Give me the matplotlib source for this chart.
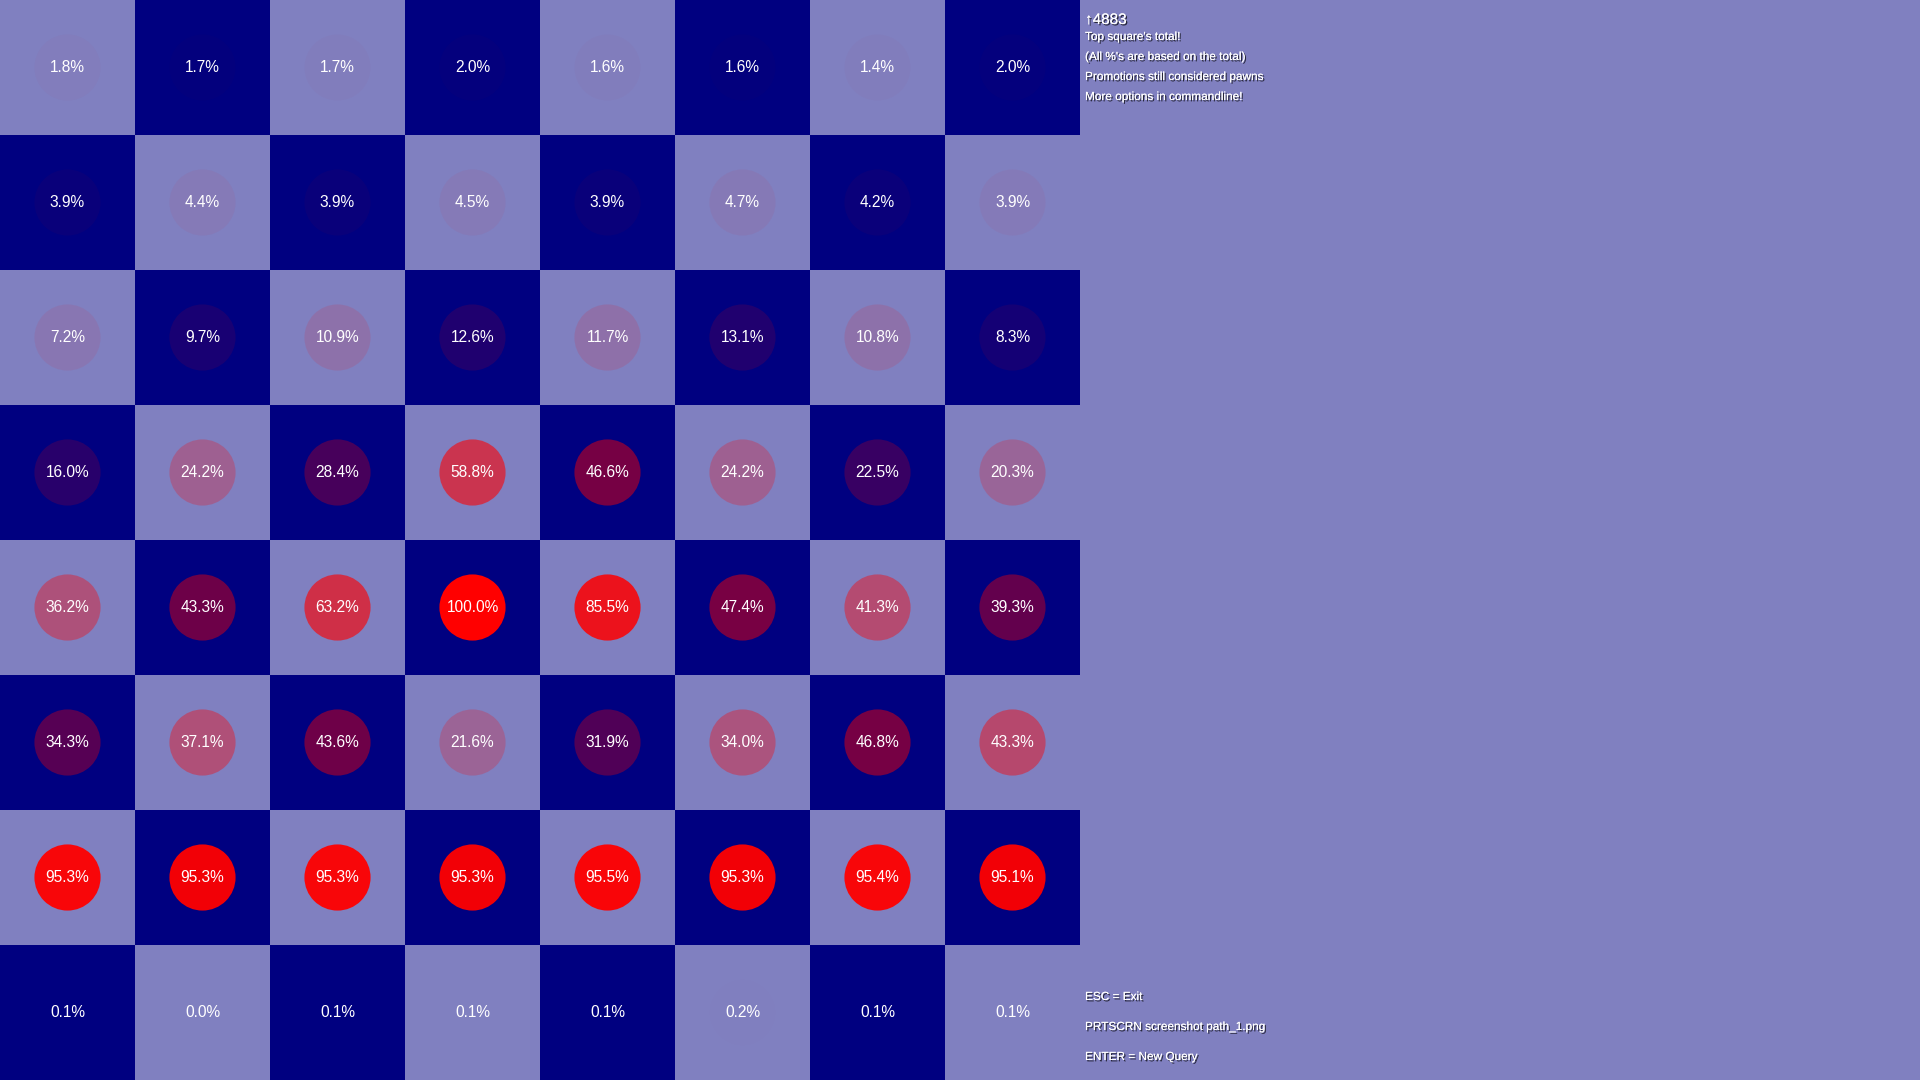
import matplotlib
matplotlib.use("Agg")
import matplotlib.pyplot as plt
import matplotlib.patheffects as pe
from matplotlib.patches import Rectangle, Circle
import numpy as np

# percentages per square, top row first
pct = np.array([
    [1.8, 1.7, 1.7, 2.0, 1.6, 1.6, 1.4, 2.0],
    [3.9, 4.4, 3.9, 4.5, 3.9, 4.7, 4.2, 3.9],
    [7.2, 9.7, 10.9, 12.6, 11.7, 13.1, 10.8, 8.3],
    [16.0, 24.2, 28.4, 58.8, 46.6, 24.2, 22.5, 20.3],
    [36.2, 43.3, 63.2, 100.0, 85.5, 47.4, 41.3, 39.3],
    [34.3, 37.1, 43.6, 21.6, 31.9, 34.0, 46.8, 43.3],
    [95.3, 95.3, 95.3, 95.3, 95.5, 95.3, 95.4, 95.1],
    [0.1, 0.0, 0.1, 0.1, 0.1, 0.2, 0.1, 0.1],
])
total = 4883
info_lines = ["Top square's total!", "(All %'s are based on the total)",
              "Promotions still considered pawns", "More options in commandline!"]
key_lines = ["ESC = Exit", "PRTSCRN screenshot path_1.png", "ENTER = New Query"]

light = "#8080c0"
dark = "#000080"
W, H = 1920, 1080

plt.rcParams['font.family'] = ['Liberation Sans', 'DejaVu Sans']
fig = plt.figure(figsize=(19.2, 10.8), dpi=100, facecolor=light)

# board occupies the left 1080x1080 square
ax = fig.add_axes([0, 0, H / W, 1])
ax.set_xlim(0, 8)
ax.set_ylim(8, 0)
ax.axis("off")

n = pct.shape[0]
for r in range(n):
    for c in range(n):
        col = light if (r + c) % 2 == 0 else dark
        ax.add_patch(Rectangle((c, r), 1, 1, facecolor=col, edgecolor="none"))
        ax.add_patch(Circle((c + 0.5, r + 0.5), 0.245, facecolor="red",
                            alpha=pct[r, c] / 100, edgecolor="none"))
        ax.text(c + 0.5, r + 0.5, f"{pct[r, c]:.1f}%", color="white",
                fontsize=11.2, ha="center", va="center")

shadow = [pe.withSimplePatchShadow(offset=(1, -1), shadow_rgbFace="black", alpha=0.7),
          pe.Normal()]
x0 = 1085 / W
fig.text(x0, 1 - 20 / H, "\u2191" + str(total), color="white", fontsize=11,
         va="center", ha="left", path_effects=shadow)
for i, line in enumerate(info_lines):
    fig.text(x0, 1 - (37 + 20 * i) / H, line, color="white", fontsize=8.5,
             va="center", ha="left", path_effects=shadow)
for i, line in enumerate(key_lines):
    fig.text(x0, 1 - (997 + 30 * i) / H, line, color="white", fontsize=8.5,
             va="center", ha="left", path_effects=shadow)

fig.savefig("out.png", dpi=100, facecolor=light)
